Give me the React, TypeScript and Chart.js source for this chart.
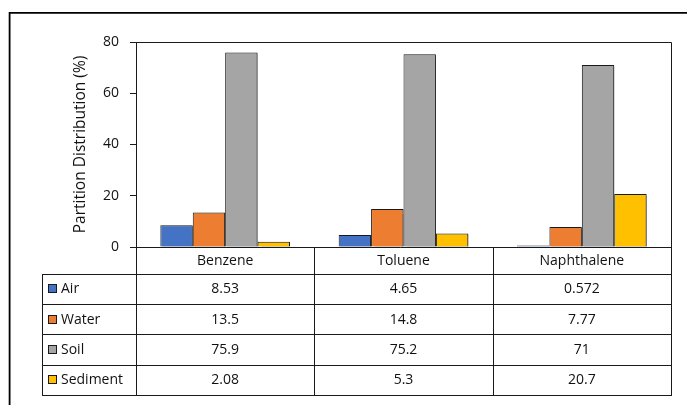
import React, { useEffect, useRef } from "react";
import { Chart, registerables } from "chart.js";

Chart.register(...registerables);

const categories = ["Benzene", "Toluene", "Naphthalene"];
const seriesNames = ["Air", "Water", "Soil", "Sediment"];
const airValues = [8.53, 4.65, 0.572];
const waterValues = [13.5, 14.8, 7.77];
const soilValues = [75.9, 75.2, 71];
const sedimentValues = [2.08, 5.3, 20.7];
const valueLabels = [
  ["8.53", "4.65", "0.572"],
  ["13.5", "14.8", "7.77"],
  ["75.9", "75.2", "71"],
  ["2.08", "5.3", "20.7"],
];
const yTicks = [0, 20, 40, 60, 80];
const colors = ["#4472C4", "#ED7D31", "#A5A5A5", "#FFC000"];

const FONT = "'Open Sans', 'Noto Sans', sans-serif";
const TEXT = "#111";

const shadowPlugin = {
  id: "barShadow",
  beforeDatasetsDraw(chart: any) {
    const ctx = chart.ctx;
    ctx.save();
    ctx.shadowColor = "rgba(0,0,0,0.35)";
    ctx.shadowOffsetX = 1.5;
    ctx.shadowOffsetY = 1;
    ctx.shadowBlur = 1;
  },
  afterDatasetsDraw(chart: any) {
    chart.ctx.restore();
  },
};

const tablePlugin = {
  id: "dataTable",
  afterDraw(chart: any) {
    const { ctx, chartArea } = chart;
    const x = chart.scales.x;
    const { left, right, top, bottom } = chartArea;
    const n = categories.length;
    const catW = (right - left) / n;
    const headerH = 26.5;
    const rowH = 30.4;
    const legendLeft = 42;
    const lineColor = "#1a1a1a";

    ctx.save();
    // outer frame
    ctx.strokeStyle = "#000";
    ctx.lineWidth = 1.8;
    ctx.beginPath();
    ctx.moveTo(9.6, 405);
    ctx.lineTo(9.6, 12.9);
    ctx.lineTo(687, 12.9);
    ctx.stroke();

    // plot area border
    ctx.strokeStyle = lineColor;
    ctx.lineWidth = 1;
    ctx.beginPath();
    ctx.moveTo(Math.round(left) + 0.5, Math.round(top) + 0.5);
    ctx.lineTo(Math.round(right) + 0.5, Math.round(top) + 0.5);
    ctx.lineTo(Math.round(right) + 0.5, Math.round(bottom) + 0.5);
    ctx.lineTo(Math.round(left) - 6, Math.round(bottom) + 0.5);
    ctx.stroke();

    const tableTop = Math.round(bottom);
    const headerBottom = tableTop + headerH;
    const tableBottom = headerBottom + rowH * seriesNames.length;

    ctx.beginPath();
    for (let i = 0; i <= n; i++) {
      const vx = Math.round(left + catW * i) + 0.5;
      ctx.moveTo(vx, tableTop);
      ctx.lineTo(vx, Math.round(tableBottom) + 0.5);
    }
    ctx.moveTo(legendLeft + 0.5, Math.round(headerBottom) + 0.5);
    ctx.lineTo(legendLeft + 0.5, Math.round(tableBottom) + 0.5);
    for (let r = 0; r <= seriesNames.length; r++) {
      const hy = Math.round(headerBottom + rowH * r) + 0.5;
      ctx.moveTo(legendLeft, hy);
      ctx.lineTo(Math.round(right) + 1, hy);
    }
    ctx.stroke();

    ctx.fillStyle = TEXT;
    ctx.font = `14px ${FONT}`;
    ctx.textAlign = "center";
    ctx.textBaseline = "middle";
    categories.forEach((c, i) => {
      const cx = x.getPixelForValue(i);
      ctx.fillText(c, cx, tableTop + headerH / 2 + 0.5);
    });
    seriesNames.forEach((s, r) => {
      const cy = headerBottom + rowH * r + rowH / 2 + 0.5;
      valueLabels[r].forEach((v, i) => {
        ctx.fillText(v, x.getPixelForValue(i), cy);
      });
      ctx.fillStyle = colors[r];
      ctx.fillRect(48, Math.round(cy - 5), 9, 9);
      ctx.strokeStyle = lineColor;
      ctx.strokeRect(48.5, Math.round(cy - 5) + 0.5, 8, 8);
      ctx.fillStyle = TEXT;
      ctx.textAlign = "left";
      ctx.fillText(s, 61, cy);
      ctx.textAlign = "center";
    });
    ctx.restore();
  },
};

export default function App() {
  const ref = useRef<HTMLCanvasElement>(null);
  useEffect(() => {
    if (!ref.current) return;
    const dataSets = [airValues, waterValues, soilValues, sedimentValues];
    const chart = new Chart(ref.current, {
      type: "bar",
      data: {
        labels: categories,
        datasets: dataSets.map((d, i) => ({
          label: seriesNames[i],
          data: d,
          backgroundColor: colors[i],
          borderColor: "#1a1a1a",
          borderWidth: 1,
          categoryPercentage: 0.727,
          barPercentage: 1,
        })),
      },
      options: {
        animation: false,
        responsive: false,
        devicePixelRatio: 1,
        layout: { padding: { left: 0, top: 42, right: 16, bottom: 158 } },
        plugins: {
          legend: { display: false },
          tooltip: { enabled: false },
        },
        scales: {
          x: {
            type: "category",
            display: false,
            grid: { display: false },
          },
          y: {
            min: 0,
            max: 80,
            afterFit: (s: any) => {
              s.width = 136;
            },
            afterBuildTicks: (s: any) => {
              s.ticks = yTicks.map((v) => ({ value: v }));
            },
            border: { display: true, color: "#1a1a1a", width: 1 },
            grid: {
              display: true,
              drawOnChartArea: false,
              drawTicks: true,
              tickLength: 6,
              color: "#1a1a1a",
            },
            ticks: {
              padding: 11,
              color: TEXT,
              font: { family: FONT, size: 14 },
            },
            title: {
              display: true,
              text: "Partition Distribution (%)",
              color: TEXT,
              font: { family: FONT, size: 15.5 },
              padding: { top: 71, bottom: 0 },
            },
          },
        },
      },
      plugins: [shadowPlugin, tablePlugin],
    });
    return () => chart.destroy();
  }, []);
  return (
    <div style={{ position: "absolute", left: 0, top: 0, width: 687, height: 405, background: "#fff" }}>
      <canvas ref={ref} width={687} height={405} style={{ width: 687, height: 405 }} />
    </div>
  );
}
